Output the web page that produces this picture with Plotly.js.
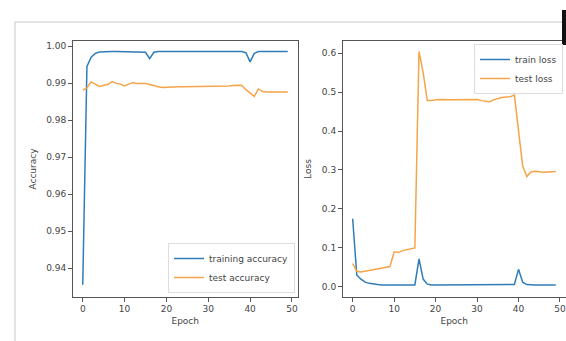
<!DOCTYPE html>
<html>
<head>
<meta charset="utf-8">
<script src="https://cdn.plot.ly/plotly-3.0.1.min.js"></script>
<style>html,body{margin:0;padding:0;background:#fff;overflow:hidden;width:566px;height:341px;}#chart{width:566px;height:341px;overflow:hidden;}</style>
</head>
<body>
<div id="chart"></div>
<script>
const epochs = Array.from({length: 50}, (_, i) => i);

const trainAcc = [0.9355, 0.9945, 0.9970, 0.9980, 0.9984, 0.9985, 0.9985, 0.9985, 0.9985, 0.9985,
  0.9985, 0.9985, 0.9985, 0.9985, 0.9985, 0.9983, 0.9966, 0.9983, 0.9985, 0.9985,
  0.9985, 0.9985, 0.9985, 0.9985, 0.9985, 0.9985, 0.9985, 0.9985, 0.9985, 0.9985,
  0.9985, 0.9985, 0.9985, 0.9985, 0.9985, 0.9985, 0.9985, 0.9985, 0.9985, 0.9982,
  0.9957, 0.9980, 0.9985, 0.9985, 0.9985, 0.9985, 0.9985, 0.9985, 0.9985, 0.9985];

const testAcc = [0.9881, 0.9887, 0.9903, 0.9897, 0.9891, 0.9894, 0.9896, 0.9904, 0.9899, 0.9897,
  0.9892, 0.9897, 0.9901, 0.9899, 0.9899, 0.9899, 0.9896, 0.9892, 0.9890, 0.9888,
  0.9889, 0.9889, 0.9889, 0.9890, 0.9890, 0.9890, 0.9890, 0.9890, 0.9890, 0.9890,
  0.9890, 0.9891, 0.9891, 0.9892, 0.9892, 0.9892, 0.9893, 0.9894, 0.9894, 0.9882,
  0.9872, 0.9864, 0.9884, 0.9877, 0.9876, 0.9876, 0.9876, 0.9875, 0.9876, 0.9876];

const trainLoss = [0.175, 0.030, 0.020, 0.012, 0.009, 0.007, 0.006, 0.005, 0.005, 0.005,
  0.005, 0.005, 0.005, 0.005, 0.005, 0.005, 0.072, 0.020, 0.007, 0.005,
  0.005, 0.005, 0.005, 0.005, 0.005, 0.005, 0.005, 0.005, 0.005, 0.005,
  0.005, 0.005, 0.005, 0.005, 0.005, 0.005, 0.005, 0.005, 0.005, 0.006,
  0.045, 0.012, 0.006, 0.005, 0.005, 0.005, 0.005, 0.005, 0.005, 0.005];

const testLoss = [0.060, 0.040, 0.038, 0.040, 0.042, 0.045, 0.047, 0.048, 0.050, 0.052,
  0.090, 0.088, 0.093, 0.095, 0.098, 0.100, 0.604, 0.550, 0.478, 0.478,
  0.480, 0.481, 0.481, 0.480, 0.480, 0.480, 0.480, 0.480, 0.480, 0.481,
  0.481, 0.478, 0.476, 0.475, 0.480, 0.484, 0.486, 0.487, 0.488, 0.492,
  0.400, 0.310, 0.283, 0.295, 0.297, 0.296, 0.294, 0.295, 0.296, 0.296];

const accNames = ['training accuracy', 'test accuracy'];
const lossNames = ['train loss', 'test loss'];
const accTicks = [0.94, 0.95, 0.96, 0.97, 0.98, 0.99, 1.00];
const lossTicks = [0.0, 0.1, 0.2, 0.3, 0.4, 0.5, 0.6];
const xTicks = [0, 10, 20, 30, 40, 50];

const BLUE = '#2f7db8';
const ORANGE = '#f5a448';
// paper is wider than the window so the right panel is cut at the edge like the reference
const W = 610, H = 341;
const px = v => v / W;
const py = v => 1 - v / H;

const traces = [
  {x: epochs, y: trainAcc, name: accNames[0], type: 'scatter', mode: 'lines',
   line: {color: BLUE, width: 1.5}, xaxis: 'x', yaxis: 'y', legend: 'legend'},
  {x: epochs, y: testAcc, name: accNames[1], type: 'scatter', mode: 'lines',
   line: {color: ORANGE, width: 1.5}, xaxis: 'x', yaxis: 'y', legend: 'legend'},
  {x: epochs, y: trainLoss, name: lossNames[0], type: 'scatter', mode: 'lines',
   line: {color: BLUE, width: 1.5}, xaxis: 'x2', yaxis: 'y2', legend: 'legend2'},
  {x: epochs, y: testLoss, name: lossNames[1], type: 'scatter', mode: 'lines',
   line: {color: ORANGE, width: 1.5}, xaxis: 'x2', yaxis: 'y2', legend: 'legend2'}
];

const tickFont = {family: 'DejaVu Sans', size: 9, color: '#444'};
const axCommon = {
  showgrid: false, zeroline: false, showline: true, mirror: true,
  linecolor: '#555', linewidth: 1, ticks: 'outside', ticklen: 3.5,
  tickcolor: '#555', tickfont: tickFont
};

const layout = {
  width: W, height: H, autosize: false,
  margin: {l: 0, r: 0, t: 0, b: 0, pad: 0},
  paper_bgcolor: '#fff', plot_bgcolor: '#fff',
  font: {family: 'DejaVu Sans', color: '#444'},
  xaxis: Object.assign({}, axCommon, {
    domain: [px(72.5), px(298)], range: [-2.45, 51.45],
    tickvals: xTicks, anchor: 'y',
    title: {text: 'Epoch', font: {size: 9, color: '#444'}, standoff: 4}
  }),
  yaxis: Object.assign({}, axCommon, {
    domain: [py(297), py(41)], range: [0.9322, 1.00135],
    tickvals: accTicks, tickformat: '.2f', anchor: 'x',
    title: {text: 'Accuracy', font: {size: 9, color: '#444'}, standoff: 8}
  }),
  xaxis2: Object.assign({}, axCommon, {
    domain: [px(342.5), px(566)], range: [-2.45, 51.45],
    tickvals: xTicks, anchor: 'y2',
    title: {text: 'Epoch', font: {size: 9, color: '#444'}, standoff: 4}
  }),
  yaxis2: Object.assign({}, axCommon, {
    domain: [py(297), py(41)], range: [-0.026, 0.631],
    tickvals: lossTicks, tickformat: '.1f', anchor: 'x2',
    title: {text: 'Loss', font: {size: 9, color: '#444'}, standoff: 8}
  }),
  showlegend: true,
  legend: {
    x: px(295), y: py(293), xanchor: 'right', yanchor: 'bottom',
    bgcolor: 'rgba(255,255,255,0.85)', bordercolor: '#ddd', borderwidth: 1,
    font: {family: 'DejaVu Sans', size: 9, color: '#444'},
    itemwidth: 30, tracegroupgap: 0
  },
  legend2: {
    x: px(474), y: py(44), xanchor: 'left', yanchor: 'top',
    bgcolor: 'rgba(255,255,255,0.85)', bordercolor: '#ddd', borderwidth: 1,
    font: {family: 'DejaVu Sans', size: 9, color: '#444'},
    itemwidth: 30, tracegroupgap: 0
  },
  shapes: [
    {type: 'line', xref: 'paper', yref: 'paper', x0: px(15), x1: 1, y0: py(22), y1: py(22),
     line: {color: '#c8c8c8', width: 1}},
    {type: 'line', xref: 'paper', yref: 'paper', x0: px(15), x1: px(15), y0: py(22), y1: 0,
     line: {color: '#c8c8c8', width: 1}},
    {type: 'rect', xref: 'paper', yref: 'paper', x0: px(562), x1: px(600), y0: py(45), y1: py(10),
     fillcolor: '#111', line: {width: 0}}
  ]
};

Plotly.newPlot('chart', traces, layout, {displayModeBar: false, staticPlot: true});
</script>
</body>
</html>
